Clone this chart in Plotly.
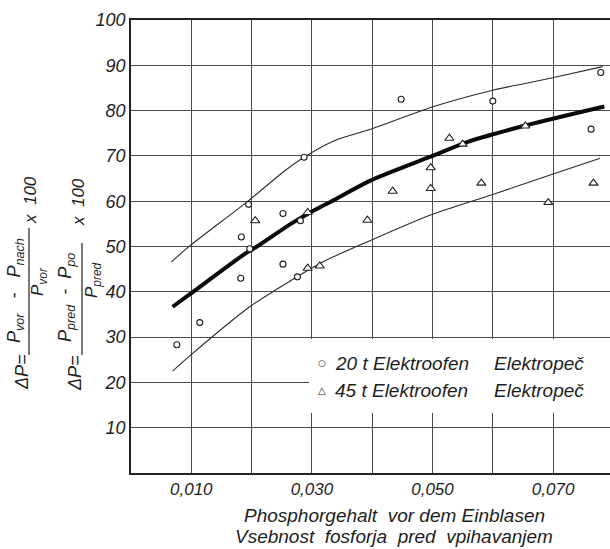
import plotly.graph_objects as go

# ---------------- data ----------------
p20_x = [0.0076, 0.0114, 0.0182, 0.0183, 0.0197, 0.0195, 0.0252, 0.0252, 0.0276, 0.0281,
         0.0287, 0.0448, 0.0600, 0.0763, 0.0779]
p20_y = [28.3, 33.2, 43.0, 52.1, 49.5, 59.3, 57.3, 46.1, 43.3, 55.7,
         69.7, 82.5, 82.1, 75.9, 88.4]

p45_x = [0.0206, 0.0293, 0.0293, 0.0313, 0.0392, 0.0434, 0.0497, 0.0497, 0.0528, 0.0550,
         0.0581, 0.0654, 0.0692, 0.0767]
p45_y = [55.7, 57.5, 45.2, 45.7, 55.8, 62.2, 62.8, 67.4, 73.9, 72.6,
         64.0, 76.6, 59.7, 64.0]

mean_x = [0.0069, 0.0096, 0.0190, 0.0209, 0.0265, 0.0301, 0.0340, 0.0396, 0.0500, 0.0561, 0.0654, 0.0785]
mean_y = [36.7, 39.3, 48.5, 50.0, 55.0, 57.8, 60.5, 64.5, 70.0, 73.2, 76.7, 80.9]

upper_x = [0.0067, 0.0099, 0.0193, 0.0253, 0.0287, 0.0340, 0.0400, 0.0502, 0.0600, 0.0701, 0.0782]
upper_y = [46.6, 50.3, 59.9, 66.5, 69.7, 73.5, 76.0, 80.9, 84.5, 87.3, 89.7]

lower_x = [0.0069, 0.0096, 0.0197, 0.0264, 0.0318, 0.0400, 0.0500, 0.0600, 0.0700, 0.0778]
lower_y = [22.5, 25.7, 36.7, 42.4, 46.6, 51.5, 57.1, 61.5, 66.0, 69.5]

x_tickvals = [0.01, 0.03, 0.05, 0.07]
x_ticktext = ["0,010", "0,030", "0,050", "0,070"]
y_tickvals = [10, 20, 30, 40, 50, 60, 70, 80, 90, 100]
y_ticktext = ["10", "20", "30", "40", "50", "60", "70", "80", "90", "100"]

legend_labels = ["20 t Elektroofen", "45 t Elektroofen"]
legend_labels_sl = ["Elektropeč", "Elektropeč"]
x_title = ["Phosphorgehalt  vor dem Einblasen", "Vsebnost  fosforja  pred  vpihavanjem"]

# ---------------- layout helpers ----------------
W, H = 610, 549
L, R, T, B = 131, 0, 20, 76
PW, PH = W - L - R, H - T - B


def xp(px):
    return (px - L) / PW


def yp(py):
    return (H - B - py) / PH


FONT = "Liberation Sans"
INK = "#1e1e1e"

fig = go.Figure()

thin = dict(color="#2a2a2a", width=1.1, shape="spline", smoothing=0.8)
fig.add_trace(go.Scatter(x=upper_x, y=upper_y, mode="lines", line=thin, hoverinfo="skip", showlegend=False))
fig.add_trace(go.Scatter(x=lower_x, y=lower_y, mode="lines", line=thin, hoverinfo="skip", showlegend=False))
fig.add_trace(go.Scatter(x=mean_x, y=mean_y, mode="lines",
                         line=dict(color="#0a0a0a", width=4, shape="spline", smoothing=0.8),
                         hoverinfo="skip", showlegend=False))

fig.add_trace(go.Scatter(x=p20_x, y=p20_y, mode="markers", name=legend_labels[0],
                         marker=dict(symbol="circle", size=6, color="white",
                                     line=dict(color=INK, width=1.1)),
                         showlegend=False))
fig.add_trace(go.Scatter(x=p45_x, y=p45_y, mode="markers", name=legend_labels[1],
                         marker=dict(symbol="triangle-up", size=8, color="white",
                                     line=dict(color=INK, width=1.1)),
                         showlegend=False))

# legend box (white panel that interrupts the grid)
fig.add_shape(type="rect", xref="paper", yref="paper",
              x0=xp(309), x1=1.0, y0=yp(413), y1=yp(339),
              fillcolor="white", line=dict(width=0), layer="above")

ann = []


def add_ann(text, px_, py_, font, xanchor="center", angle=0):
    ann.append(dict(x=xp(px_), y=yp(py_), xref="paper", yref="paper", text=text,
                    showarrow=False, xanchor=xanchor, yanchor="middle",
                    textangle=angle, font=font))


leg_y = [363, 390]
leg_sym = ["○", "△"]
for i in range(2):
    add_ann(leg_sym[i], 322, leg_y[i],
            dict(family="DejaVu Sans", size=9 if i == 0 else 10, color=INK))
    add_ann(legend_labels[i], 333, leg_y[i],
            dict(family=FONT, size=19, color=INK, style="italic"), xanchor="left")
    add_ann(legend_labels_sl[i], 492, leg_y[i],
            dict(family=FONT, size=19, color=INK, style="italic"), xanchor="left")

# x-axis title lines
for i, yy in enumerate([515, 536]):
    add_ann(x_title[i], 394, yy, dict(family=FONT, size=19, color=INK, style="italic"))

# y-axis formulas (rotated)
formula_parts = [
    ("ΔP=", 22, 372, 18),
    ("P<sub>vor</sub>   -   P<sub>nach</sub>", 15, 291, 18),
    ("P<sub>vor</sub>", 39, 282, 17),
    ("x  100", 30, 200, 17),
    ("ΔP=", 75, 373, 18),
    ("P<sub>pred</sub>  -  P<sub>po</sub>", 66, 298, 18),
    ("P<sub>pred</sub>", 93, 280, 17),
    ("x  100", 78, 202, 17),
]
for txt, px_, py_, fs in formula_parts:
    add_ann(txt, px_, py_, dict(family=FONT, size=fs, color=INK, style="italic"), angle=-90)

for x_, y0_, y1_ in [(29, 355, 228), (82, 355, 243)]:
    fig.add_shape(type="line", xref="paper", yref="paper",
                  x0=xp(x_), x1=xp(x_), y0=yp(y0_), y1=yp(y1_),
                  line=dict(color=INK, width=1.2))

grid = "#4a4a4a"
fig.update_layout(
    width=W, height=H,
    margin=dict(l=L, r=R, t=T, b=B),
    paper_bgcolor="white", plot_bgcolor="white",
    showlegend=False,
    annotations=ann,
    font=dict(family=FONT, color=INK),
    xaxis=dict(range=[0, PW / 6030], tickvals=x_tickvals, ticktext=x_ticktext,
               showgrid=True, gridcolor=grid, gridwidth=1.2, zeroline=False,
               minor=dict(tick0=0, dtick=0.01, showgrid=True, gridcolor=grid, gridwidth=1.2),
               showline=True, linecolor="#222", linewidth=1.6, mirror=True,
               ticks="", ticklabelstandoff=0,
               tickfont=dict(family=FONT, size=17, color=INK, style="italic")),
    yaxis=dict(range=[0, 100], tickvals=y_tickvals, ticktext=y_ticktext,
               showgrid=True, gridcolor=grid, gridwidth=1.2, zeroline=False,
               showline=True, linecolor="#222", linewidth=1.6,
               ticks="", ticklabelstandoff=0,
               tickfont=dict(family=FONT, size=18, color=INK, style="italic")),
)

fig.write_html("out.html")
